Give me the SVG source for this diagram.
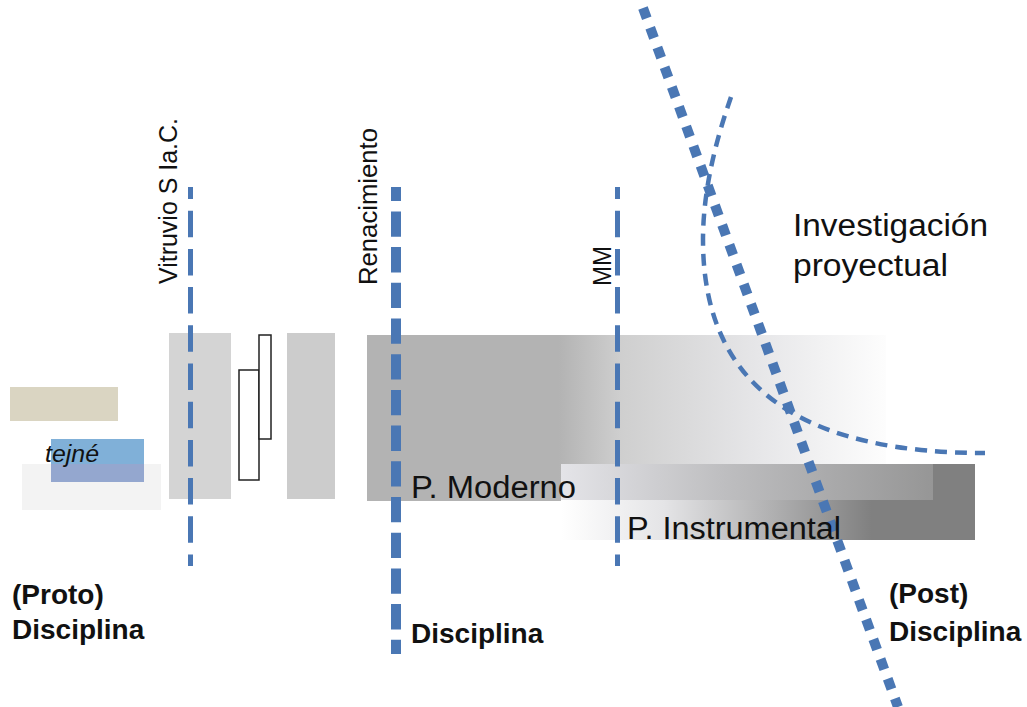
<svg xmlns="http://www.w3.org/2000/svg" width="1027" height="707" viewBox="0 0 1027 707">
  <defs>
    <linearGradient id="gModerno" x1="367" y1="0" x2="886" y2="0" gradientUnits="userSpaceOnUse">
      <stop offset="0" stop-color="#b3b3b3"/>
      <stop offset="0.37" stop-color="#b3b3b3"/>
      <stop offset="0.49" stop-color="#cfcfcf"/>
      <stop offset="0.75" stop-color="#e6e6e8"/>
      <stop offset="1" stop-color="#fdfdfd"/>
    </linearGradient>
    <linearGradient id="gInstrLow" x1="561" y1="0" x2="975" y2="0" gradientUnits="userSpaceOnUse">
      <stop offset="0" stop-color="#ffffff"/>
      <stop offset="0.25" stop-color="#e4e4e6"/>
      <stop offset="0.75" stop-color="#808080"/>
      <stop offset="1" stop-color="#808080"/>
    </linearGradient>
    <linearGradient id="gInstrTop" x1="561" y1="0" x2="933" y2="0" gradientUnits="userSpaceOnUse">
      <stop offset="0" stop-color="#e4e4e8"/>
      <stop offset="0.45" stop-color="#bdbdbf"/>
      <stop offset="1" stop-color="#969696"/>
    </linearGradient>
  </defs>
  <style>
    .lbl { font-family: "Liberation Sans", Arial, sans-serif; fill: #111; }
    .big { font-size: 31px; }
    .rot { font-size: 26px; }
    .bold { font-size: 28px; font-weight: bold; }
    .era { fill: none; stroke: #4a77b4; }
    .thin { stroke-width: 5; stroke-dasharray: 26.5 11.7; }
    .outline { fill: #ffffff; stroke: #222; stroke-width: 1.5; }
  </style>

  <rect width="1027" height="707" fill="#ffffff"/>

  <!-- proto-discipline: techne -->
  <g id="proto">
    <rect x="10" y="387" width="108" height="34" fill="#dad5c2"/>
    <rect x="22" y="464" width="139" height="46" fill="#f3f3f3"/>
    <rect x="51" y="439" width="93" height="25" fill="#80b0d8"/>
    <rect x="51" y="464" width="93" height="18" fill="#94a7cf"/>
    <text class="lbl" x="45" y="462" font-size="23" font-style="italic" textLength="54" lengthAdjust="spacingAndGlyphs">tejné</text>
    <text class="lbl bold" x="12" y="604">(Proto)</text>
    <text class="lbl bold" x="12" y="639">Disciplina</text>
  </g>

  <!-- Vitruvius block -->
  <g id="vitruvio-block">
    <rect x="169" y="333" width="62" height="166" fill="#d4d4d4"/>
    <rect x="239" y="370" width="20" height="110" class="outline"/>
    <rect x="259" y="335" width="12" height="104" class="outline"/>
    <rect x="287" y="333" width="48" height="166" fill="#cccccc"/>
  </g>

  <!-- Modern paradigm band -->
  <g id="moderno">
    <rect x="367" y="335" width="519" height="166" fill="url(#gModerno)"/>
  </g>

  <!-- Instrumental paradigm band -->
  <g id="instrumental">
    <rect x="561" y="464" width="414" height="76" fill="url(#gInstrLow)"/>
    <rect x="561" y="464" width="372" height="36" fill="url(#gInstrTop)"/>
  </g>

  <!-- period markers and curves -->
  <g id="connectors">
    <line x1="190.5" y1="187" x2="190.5" y2="566" class="era thin" stroke-dashoffset="14.5"/>
    <line x1="396" y1="187" x2="396" y2="654" class="era" stroke-width="10" stroke-dasharray="25.3 10.4" stroke-dashoffset="11.3"/>
    <line x1="617.5" y1="187" x2="617.5" y2="566" class="era thin" stroke-dashoffset="14.5"/>
    <path d="M731,97 C716,140 703,190 703,240 C703,400 820,453 985,453" class="era" stroke-width="4.5" stroke-dasharray="12 8"/>
    <line x1="643" y1="8" x2="898" y2="707" class="era" stroke-width="10" stroke-dasharray="11 10"/>
  </g>

  <g id="vitruvio-label">
    <text class="lbl rot" transform="translate(177,284) rotate(-90)" textLength="166" lengthAdjust="spacingAndGlyphs">Vitruvio S Ia.C.</text>
  </g>
  <g id="renacimiento-label">
    <text class="lbl rot" transform="translate(377,285) rotate(-90)" textLength="157" lengthAdjust="spacingAndGlyphs">Renacimiento</text>
  </g>
  <g id="mm-label">
    <text class="lbl rot" transform="translate(611,286) rotate(-90)" textLength="40" lengthAdjust="spacingAndGlyphs">MM</text>
  </g>

  <g id="moderno-label">
    <text class="lbl big" x="411" y="498" textLength="165" lengthAdjust="spacingAndGlyphs">P. Moderno</text>
  </g>
  <g id="instrumental-label">
    <text class="lbl big" x="627" y="539" textLength="214" lengthAdjust="spacingAndGlyphs">P. Instrumental</text>
  </g>
  <g id="disciplina">
    <text class="lbl bold" x="411" y="643">Disciplina</text>
  </g>
  <g id="investigacion">
    <text class="lbl big" x="793" y="236" textLength="195" lengthAdjust="spacingAndGlyphs">Investigación</text>
    <text class="lbl big" x="793" y="276" textLength="155" lengthAdjust="spacingAndGlyphs">proyectual</text>
  </g>
  <g id="post">
    <text class="lbl bold" x="889" y="603">(Post)</text>
    <text class="lbl bold" x="889" y="641">Disciplina</text>
  </g>
</svg>
